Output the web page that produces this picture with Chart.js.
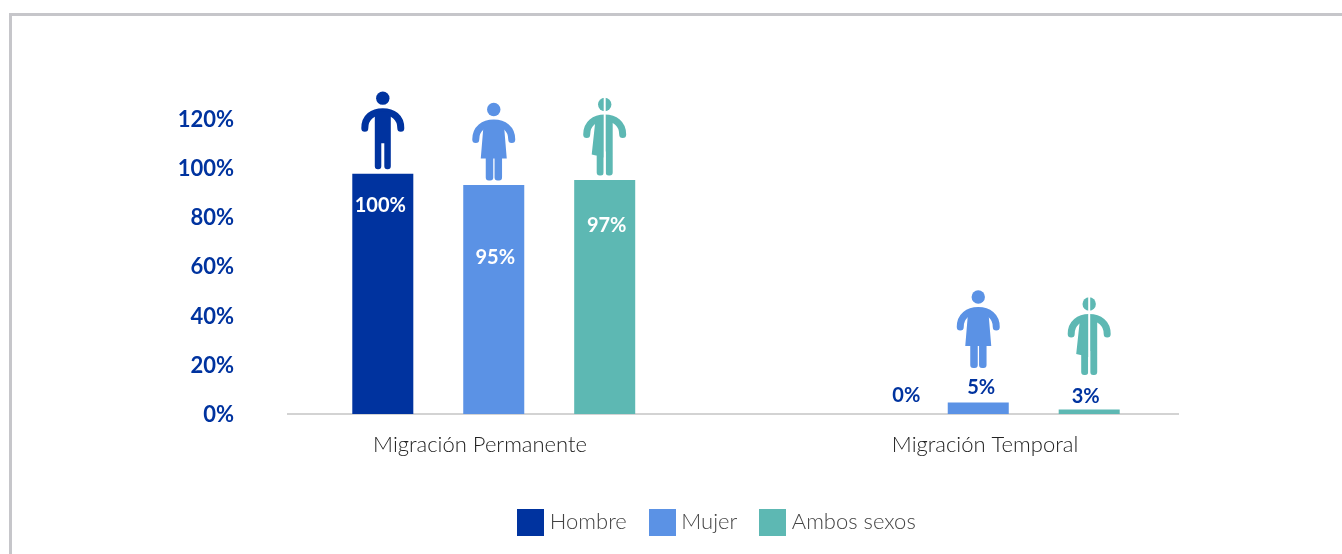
<!DOCTYPE html>
<html>
<head>
<meta charset="utf-8">
<script src="https://cdn.jsdelivr.net/npm/chart.js@4"></script>
<style>
    html, body { margin: 0; padding: 0; background: #fff; overflow: hidden; }
    #frame { position: absolute; left: 9px; top: 13px; right: -10px; bottom: -10px; border: 3px solid #c6c6ca; }
    #wrap { position: absolute; left: 0; top: 0; width: 1342px; height: 554px; }
</style>
</head>
<body>
<div id="frame"></div>
<div id="wrap"><canvas id="migrationChart"></canvas></div>
<script>
const categories = ['Migración Permanente', 'Migración Temporal'];
const hombre = [97.6, 0];
const mujer = [93, 4.7];
const ambos = [95, 1.8];
const hombreLabels = ['100%', '0%'];
const mujerLabels = ['95%', '5%'];
const ambosLabels = ['97%', '3%'];
const yTicks = [0, 20, 40, 60, 80, 100, 120];

const BLUE = '#00339f';
const LIGHT_BLUE = '#5b92e5';
const TEAL = '#5db8b3';

// tweaks per dataset / category: the labels and figures were placed by hand in the original
const labelShift = [
    [{ dx: -2.5, dy: 32 }, { dx: 39, dy: -18 }],
    [{ dx: 1.5, dy: 73 }, { dx: 3, dy: -15 }],
    [{ dx: 2, dy: 45 }, { dx: -3.5, dy: -13 }]
];
const figureLift = [4.5, 34.5];
const categoryLabelShift = [-13.7, 6.8];

function swatch(color) {
    const c = document.createElement('canvas');
    c.width = 27;
    c.height = 27;
    const g = c.getContext('2d');
    g.fillStyle = color;
    g.fillRect(0, 0, 27, 27);
    return c;
}

function drawFigure(ctx, kind, x, feet, color) {
    ctx.save();
    ctx.translate(x, feet);
    ctx.fillStyle = color;
    ctx.strokeStyle = color;

    // head
    ctx.beginPath();
    ctx.arc(0, -71, 6.7, 0, Math.PI * 2);
    ctx.fill();

    // arms
    ctx.lineWidth = 7;
    ctx.lineCap = 'round';
    ctx.beginPath();
    ctx.moveTo(-18, -41);
    ctx.bezierCurveTo(-18, -52, -10, -57.5, 0, -57.5);
    ctx.bezierCurveTo(10, -57.5, 18, -52, 18, -41);
    ctx.stroke();

    // body
    ctx.beginPath();
    if (kind === 'man') {
        ctx.rect(-8, -58, 16, 32);
        ctx.roundRect(-8, -30, 6.5, 30, 3);
        ctx.roundRect(1.5, -30, 6.5, 30, 3);
    } else if (kind === 'woman') {
        ctx.moveTo(-10, -58);
        ctx.lineTo(10, -58);
        ctx.lineTo(13, -22);
        ctx.lineTo(-13, -22);
        ctx.closePath();
        ctx.roundRect(-8, -26, 7.5, 26, 3);
        ctx.roundRect(0.8, -26, 7.5, 26, 3);
    } else {
        ctx.moveTo(-9, -58);
        ctx.lineTo(0, -58);
        ctx.lineTo(0, -18);
        ctx.lineTo(-13, -21);
        ctx.closePath();
        ctx.rect(0, -58, 8, 34);
        ctx.roundRect(-8, -26, 7, 26, 3);
        ctx.roundRect(1, -30, 7, 30, 3);
    }
    ctx.fill();

    // split down the middle of the mixed figure
    if (kind === 'both') {
        ctx.fillStyle = '#fff';
        ctx.fillRect(-1, -79, 2, 79);
    }
    ctx.restore();
}

// figures on top of the bars and the percent labels
const figuresPlugin = {
    id: 'figures',
    afterDatasetsDraw(chart) {
        const ctx = chart.ctx;
        chart.data.datasets.forEach((ds, d) => {
            chart.getDatasetMeta(d).data.forEach((bar, i) => {
                if (ds.data[i] > 0) {
                    drawFigure(ctx, ds.figure, bar.x, bar.y - figureLift[i], ds.backgroundColor);
                }
                const shift = labelShift[d][i];
                ctx.save();
                ctx.font = 'bold 20px Lato';
                ctx.textAlign = 'center';
                ctx.textBaseline = 'middle';
                ctx.fillStyle = i === 0 ? '#fff' : BLUE;
                ctx.fillText(ds.valueLabels[i], bar.x + shift.dx, bar.y + shift.dy);
                ctx.restore();
            });
        });
    }
};

// the base line is shorter than the plot area, the legend sits right of centre
const baselinePlugin = {
    id: 'baseline',
    afterLayout(chart) {
        chart.legend.left += 24;
        chart.legend.right += 24;
    },
    beforeDatasetsDraw(chart) {
        const ctx = chart.ctx;
        const y = chart.scales.y.getPixelForValue(0);
        ctx.save();
        ctx.strokeStyle = '#c4c4c4';
        ctx.lineWidth = 1.5;
        ctx.beginPath();
        ctx.moveTo(287, y);
        ctx.lineTo(1179, y);
        ctx.stroke();
        ctx.restore();
    }
};

const chart = new Chart(document.getElementById('migrationChart'), {
    type: 'bar',
    data: {
        labels: categories,
        datasets: [
            { label: 'Hombre', data: hombre, valueLabels: hombreLabels, figure: 'man', backgroundColor: BLUE },
            { label: 'Mujer', data: mujer, valueLabels: mujerLabels, figure: 'woman', backgroundColor: LIGHT_BLUE },
            { label: 'Ambos sexos', data: ambos, valueLabels: ambosLabels, figure: 'both', backgroundColor: TEAL }
        ]
    },
    options: {
        responsive: true,
        maintainAspectRatio: false,
        animation: false,
        categoryPercentage: 0.687,
        barPercentage: 0.55,
        layout: {
            padding: { top: 118.5, right: 121.5, bottom: 11, left: 170 }
        },
        scales: {
            x: {
                grid: { display: false },
                border: { display: false },
                ticks: {
                    color: '#222',
                    padding: 10,
                    font: { family: 'Lato', size: 22, weight: '300' },
                    maxRotation: 0
                },
                afterFit(scale) {
                    scale.height = 69.5;
                },
                afterUpdate(scale) {
                    const base = scale.getPixelForValue.bind(scale);
                    scale.getPixelForTick = i => base(i) + categoryLabelShift[i];
                }
            },
            y: {
                min: 0,
                max: 120,
                grid: { display: false },
                border: { display: false },
                afterBuildTicks(scale) {
                    scale.ticks = yTicks.map(v => ({ value: v }));
                },
                afterFit(scale) {
                    scale.width = 81.5;
                },
                ticks: {
                    color: BLUE,
                    padding: 9.5,
                    labelOffset: 1,
                    font: { family: 'Lato', size: 22, weight: 'bold' },
                    callback: v => v + '%'
                }
            }
        },
        plugins: {
            tooltip: { enabled: false },
            legend: {
                position: 'bottom',
                labels: {
                    usePointStyle: true,
                    boxWidth: 16,
                    padding: 27.5,
                    color: '#444',
                    font: { family: 'Lato', size: 22, weight: '300' },
                    generateLabels(c) {
                        return Chart.defaults.plugins.legend.labels.generateLabels(c).map((item, i) => {
                            item.pointStyle = swatch(c.data.datasets[i].backgroundColor);
                            return item;
                        });
                    }
                }
            }
        }
    },
    plugins: [baselinePlugin, figuresPlugin]
});
</script>
</body>
</html>
